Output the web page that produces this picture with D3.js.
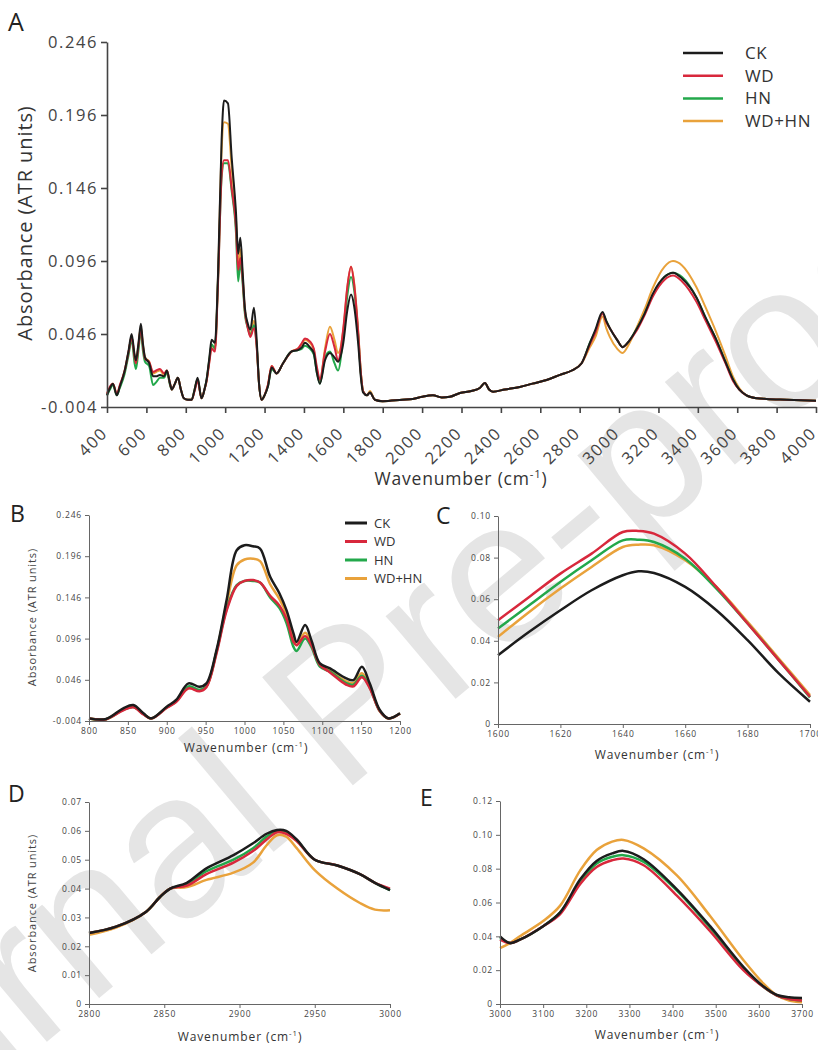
<!DOCTYPE html>
<meta charset="utf-8">
<script src="https://cdn.jsdelivr.net/npm/d3@7"></script>
<style>
  body { margin: 0; background: #fff; }
  text { font-family: "Open Sans", sans-serif; }
</style>
<div id="chart"></div>
<script>
// series
var names = ["CK", "WD", "HN", "WD+HN"];
var colors = ["#1c1c1c", "#d8283c", "#23a84b", "#e9a23b"];

// panel A: full spectrum
var aWn = [400,415,430,450,465,490,510,525,540,547,560,572,582,593,614,634,650,669,690,704,720,729,745,760,775,790,811,830,845,860,880,895,906,920,931,948,964,982,994,1014,1033,1055,1066,1077,1089,1100,1115,1128,1146,1160,1172,1185,1200,1217,1236,1261,1294,1337,1370,1390,1405,1430,1450,1465,1481,1507,1532,1555,1573,1600,1620,1639,1655,1675,1690,1700,1720,1735,1760,1800,1900,1953,2000,2055,2100,2141,2192,2250,2293,2319,2340,2360,2420,2496,2560,2632,2700,2760,2810,2852,2880,2916,2935,2953,2990,3018,3050,3088,3130,3173,3230,3274,3320,3393,3440,3494,3540,3578,3610,3647,3700,3749,3850,4000];
var aCK = [.004,.009,.012,.004,.010,.021,.035,.046,.032,.028,.040,.053,.040,.030,.026,.017,.017,.018,.017,.021,.012,.008,.012,.016,.008,.002,.001,.001,.008,.016,.002,.008,.015,.030,.042,.040,.088,.179,.206,.204,.167,.129,.101,.112,.088,.064,.053,.049,.064,.042,.012,.001,.004,.010,.023,.019,.026,.034,.035,.037,.040,.037,.033,.020,.012,.028,.033,.030,.027,.040,.062,.073,.065,.040,.015,.006,.004,.006,.001,.000,.001,.0015,.003,.004,.0025,.003,.0056,.007,.009,.0124,.008,.0065,.008,.0097,.012,.0145,.018,.021,.026,.040,.049,.061,.055,.050,.042,.037,.041,.049,.060,.074,.085,.088,.084,.071,.057,.042,.027,.015,.008,.004,.002,.0015,.001,.0003];
var aWD = [.005,.010,.012,.005,.011,.021,.034,.044,.030,.026,.038,.050,.038,.029,.027,.020,.021,.022,.019,.021,.012,.008,.012,.016,.008,.002,.001,.001,.007,.014,.002,.008,.014,.027,.036,.034,.082,.155,.165,.165,.146,.119,.090,.098,.083,.062,.050,.044,.050,.037,.012,.001,.004,.011,.024,.019,.026,.034,.036,.040,.043,.041,.036,.024,.015,.034,.046,.037,.028,.050,.078,.092,.080,.048,.018,.007,.004,.006,.001,.000,.001,.0015,.003,.004,.0025,.003,.0056,.007,.009,.0124,.008,.0065,.008,.0097,.012,.0145,.018,.021,.026,.039,.047,.060,.054,.050,.042,.037,.041,.048,.059,.072,.083,.086,.082,.068,.055,.040,.026,.014,.008,.004,.002,.0015,.001,.0003];
var aHN = [.004,.008,.011,.004,.009,.019,.032,.042,.026,.022,.035,.048,.035,.027,.024,.011,.013,.016,.016,.020,.011,.008,.012,.016,.008,.002,.001,.001,.008,.015,.002,.008,.015,.029,.039,.036,.084,.153,.163,.163,.144,.115,.082,.095,.080,.060,.050,.045,.052,.038,.012,.001,.004,.010,.022,.019,.026,.034,.035,.036,.038,.036,.032,.020,.012,.030,.034,.026,.021,.045,.072,.085,.076,.046,.017,.007,.004,.006,.001,.000,.001,.0015,.003,.004,.0025,.003,.0056,.007,.009,.0124,.008,.0065,.008,.0097,.012,.0145,.018,.021,.026,.040,.048,.060,.055,.050,.042,.037,.041,.049,.060,.073,.085,.088,.085,.071,.057,.042,.027,.015,.008,.004,.002,.0015,.001,.0003];
var aWDHN = [.005,.009,.012,.005,.010,.021,.034,.044,.031,.027,.039,.051,.039,.030,.027,.019,.020,.021,.018,.021,.012,.008,.012,.016,.008,.002,.001,.001,.008,.015,.002,.008,.014,.028,.038,.036,.086,.172,.191,.190,.160,.124,.092,.104,.085,.062,.051,.046,.055,.039,.012,.001,.004,.011,.024,.019,.026,.034,.036,.039,.042,.040,.035,.022,.014,.036,.051,.042,.033,.049,.077,.092,.081,.049,.018,.007,.004,.007,.001,.000,.001,.0015,.003,.004,.0025,.003,.0056,.007,.009,.0124,.008,.0065,.008,.0097,.012,.0145,.018,.021,.026,.037,.044,.058,.050,.044,.036,.033,.039,.050,.063,.078,.092,.096,.093,.078,.064,.047,.031,.017,.009,.004,.002,.0015,.001,.0003];

// panel B: 800-1200
var bWn = [800,822,844,857,870,880,900,912,928,942,951,964,977,990,1000,1011,1020,1033,1045,1054,1063,1067,1078,1086,1097,1110,1131,1140,1151,1161,1174,1185,1200];
var bCK = [-.0008,-.0016,.0114,.0154,.0053,-.0008,.0134,.0215,.0417,.0376,.0417,.082,.1427,.2033,.2093,.2081,.2053,.171,.1507,.1305,.1023,.092,.1124,.0942,.0659,.0598,.0477,.0457,.0619,.0417,.0093,-.0008,.0053];
var bWD = [-.001,-.0018,.009,.0126,.004,-.001,.012,.019,.0356,.032,.037,.078,.130,.160,.166,.167,.164,.148,.136,.120,.092,.088,.099,.088,.064,.055,.040,.038,.049,.036,.008,-.001,.005];
var bHN = [-.001,-.0018,.0095,.013,.0045,-.001,.0125,.020,.038,.034,.0385,.080,.132,.161,.166,.166,.164,.146,.133,.115,.086,.081,.096,.086,.062,.056,.042,.040,.051,.037,.008,-.001,.005];
var bWDHN = [-.001,-.0018,.010,.0135,.0045,-.001,.0125,.020,.036,.033,.038,.080,.138,.185,.192,.193,.190,.162,.144,.126,.096,.088,.103,.090,.064,.057,.044,.042,.054,.038,.008,-.001,.005];

// panel C: 1600-1700
var cWn = [1600,1610,1620,1630,1640,1645,1650,1660,1670,1680,1690,1700];
var cCK = [.0331,.0443,.0547,.0643,.0715,.0734,.0726,.0659,.0547,.0403,.0243,.0107];
var cWD = [.0499,.0611,.0723,.0819,.0923,.0928,.0915,.0819,.0659,.0483,.0307,.0131];
var cHN = [.0459,.0571,.0683,.0787,.0883,.0886,.0875,.0795,.0651,.0483,.0307,.0128];
var cWDHN = [.0419,.0539,.0651,.0755,.0851,.0862,.0859,.0787,.0659,.0491,.0315,.0139];

// panel D: 2800-3000
var dWn = [2800,2818,2838,2847,2854,2865,2878,2896,2909,2918,2925,2931,2938,2950,2965,2980,2990,3000];
var dCK = [.0246,.0268,.032,.037,.040,.042,.047,.0516,.0557,.059,.0603,.060,.057,.050,.048,.045,.042,.0395];
var dWD = [.0246,.0268,.032,.037,.040,.041,.045,.049,.053,.057,.0595,.059,.0565,.050,.048,.045,.042,.040];
var dHN = [.0246,.0268,.032,.037,.040,.0415,.046,.050,.054,.058,.060,.0595,.0567,.050,.048,.045,.042,.0395];
var dWDHN = [.024,.0265,.032,.037,.040,.0405,.043,.0455,.049,.055,.0585,.058,.054,.0464,.040,.035,.0327,.0325];

// panel E: 3000-3700
var eWn = [3000,3023,3046,3100,3139,3186,3224,3260,3286,3333,3410,3487,3564,3611,3642,3670,3700];
var eCK = [.040,.036,.038,.046,.054,.0737,.0846,.089,.0905,.0856,.0678,.046,.022,.0103,.0053,.004,.0036];
var eWD = [.038,.036,.038,.046,.053,.071,.081,.085,.086,.082,.064,.043,.020,.010,.005,.003,.002];
var eHN = [.039,.036,.038,.046,.054,.072,.083,.087,.088,.084,.067,.045,.021,.010,.005,.003,.002];
var eWDHN = [.033,.036,.040,.049,.058,.079,.091,.096,.097,.092,.076,.052,.026,.012,.005,.002,.001];

var svg = d3.select("#chart").append("svg")
    .attr("width", 818)
    .attr("height", 1050);

// watermark behind everything
var wm = svg.append("g").attr("transform", "translate(340,796) rotate(-40)")
    .style("font-size", "205px").attr("fill", "#e5e5e5");
wm.append("text").attr("x", -55).attr("text-anchor", "end").style("font-family", "'Liberation Sans', Arial, sans-serif").text("Journal");
wm.append("text").attr("x", 0).style("font-family", "'Liberation Sans', Arial, sans-serif").text("Pre-proof");

function fmt(f) {
  return function(d) { return d === 0 ? "0" : d3.format(f)(d).replace("\u2212", "-"); };
}

function xLabel(g, cx, cy, size, ls) {
  var t = g.append("text")
      .attr("x", cx).attr("y", cy)
      .attr("text-anchor", "middle")
      .style("font-size", size + "px")
      .style("letter-spacing", ls + "px")
      .attr("fill", "#333")
      .text("Wavenumber (cm");
  t.append("tspan").attr("dy", -size * 0.4).style("font-size", (size * 0.65) + "px").text("-1");
  t.append("tspan").attr("dy", size * 0.4).text(")");
}

function panel(o) {
  var g = svg.append("g");
  var x = d3.scaleLinear().domain(o.xd).range([o.l, o.r]);
  var y = d3.scaleLinear().domain(o.yd).range([o.b, o.t]);

  var line = d3.line()
      .x(function(d) { return x(d[0]); })
      .y(function(d) { return y(d[1]); })
      .curve(o.curve);

  // draw orange, green, red, then black on top
  [3, 2, 1, 0].forEach(function(i) {
    var pts = o.wn.map(function(w, k) { return [w, o.vals[i][k]]; });
    g.append("path")
        .datum(pts)
        .attr("fill", "none")
        .attr("stroke", colors[i])
        .attr("stroke-width", o.lw)
        .attr("stroke-linejoin", "round")
        .attr("d", line);
  });

  var xa = g.append("g")
      .attr("transform", "translate(0," + o.b + ")")
      .call(d3.axisBottom(x).tickValues(o.xt).tickSize(o.tick).tickSizeOuter(0).tickFormat(d3.format("d")));
  var ya = g.append("g")
      .attr("transform", "translate(" + o.l + ",0)")
      .call(d3.axisLeft(y).tickValues(o.yt).tickSize(o.tick).tickSizeOuter(0).tickFormat(fmt(o.yf)));

  [xa, ya].forEach(function(a) {
    a.select(".domain").attr("stroke", o.axisColor).attr("stroke-width", o.aw);
    a.selectAll(".tick line").attr("stroke", o.axisColor).attr("stroke-width", o.aw);
    a.selectAll("text").style("font-size", o.fs + "px").attr("fill", "#444")
        .style("letter-spacing", o.ls + "px")
        .style("font-family", "'Open Sans', sans-serif");
  });
  return {g: g, xa: xa, ya: ya};
}

// ---------- A ----------
var A = panel({
  wn: aWn, vals: [aCK, aWD, aHN, aWDHN],
  xd: [400, 4000], yd: [-0.004, 0.246],
  l: 107, r: 816, t: 42, b: 407,
  xt: d3.range(400, 4001, 200), yt: [-0.004, 0.046, 0.096, 0.146, 0.196, 0.246],
  yf: ".3f", tick: 6, fs: 16.5, ls: 1.6, lw: 2, aw: 1.6, axisColor: "#444",
  curve: d3.curveMonotoneX
});
A.xa.selectAll("text")
    .attr("x", 0).attr("y", 0).attr("dy", "0.35em")
    .attr("transform", "translate(-3,23) rotate(-45)")
    .style("text-anchor", "end");
A.ya.selectAll("text").attr("x", -9);

svg.append("text").attr("x", 8).attr("y", 31).style("font-size", "25px").attr("fill", "#222").text("A");
svg.append("text")
    .attr("transform", "translate(32,223) rotate(-90)")
    .attr("text-anchor", "middle")
    .style("font-size", "20px").style("letter-spacing", "0.9px").attr("fill", "#333")
    .text("Absorbance (ATR units)");
xLabel(svg, 461, 485, 17.5, 0.8);

// legend A
names.forEach(function(n, i) {
  var yy = 53 + i * 22.7;
  svg.append("line").attr("x1", 683).attr("x2", 723).attr("y1", yy).attr("y2", yy)
      .attr("stroke", colors[i]).attr("stroke-width", 2.5);
  svg.append("text").attr("x", 745).attr("y", yy).attr("dy", "0.35em")
      .style("font-size", "17px").style("letter-spacing", "0.6px").attr("fill", "#333").text(n);
});

// ---------- B ----------
panel({
  wn: bWn, vals: [bCK, bWD, bHN, bWDHN],
  xd: [800, 1200], yd: [-0.004, 0.246],
  l: 89, r: 400, t: 515, b: 721,
  xt: d3.range(800, 1201, 50), yt: [-0.004, 0.046, 0.096, 0.146, 0.196, 0.246],
  yf: ".3f", tick: 4, fs: 8.5, ls: 0.8, lw: 2.5, aw: 1, axisColor: "#666",
  curve: d3.curveCatmullRom
});
svg.append("text").attr("x", 10).attr("y", 522).style("font-size", "23px").attr("fill", "#222").text("B");
svg.append("text")
    .attr("transform", "translate(36,617) rotate(-90)")
    .attr("text-anchor", "middle")
    .style("font-size", "11px").style("letter-spacing", "0.9px").attr("fill", "#444")
    .text("Absorbance (ATR units)");
xLabel(svg, 246, 752, 12, 0.9);
names.forEach(function(n, i) {
  var yy = 523 + i * 18.5;
  svg.append("line").attr("x1", 345).attr("x2", 367).attr("y1", yy).attr("y2", yy)
      .attr("stroke", colors[i]).attr("stroke-width", 3);
  svg.append("text").attr("x", 374).attr("y", yy).attr("dy", "0.35em")
      .style("font-size", "13px").attr("fill", "#333").text(n);
});

// ---------- C ----------
panel({
  wn: cWn, vals: [cCK, cWD, cHN, cWDHN],
  xd: [1600, 1700], yd: [0, 0.10],
  l: 498, r: 810, t: 516, b: 724,
  xt: d3.range(1600, 1701, 20), yt: d3.range(0, 0.101, 0.02),
  yf: ".2f", tick: 4, fs: 8.5, ls: 0.8, lw: 2.5, aw: 1, axisColor: "#666",
  curve: d3.curveCatmullRom
});
svg.append("text").attr("x", 436).attr("y", 524).style("font-size", "23px").attr("fill", "#222").text("C");
xLabel(svg, 657, 759, 12, 0.9);

// ---------- D ----------
panel({
  wn: dWn, vals: [dCK, dWD, dHN, dWDHN],
  xd: [2800, 3000], yd: [0, 0.07],
  l: 89, r: 390, t: 802, b: 1004,
  xt: d3.range(2800, 3001, 50), yt: d3.range(0, 0.0701, 0.01),
  yf: ".2f", tick: 4, fs: 8.5, ls: 0.8, lw: 2.5, aw: 1, axisColor: "#666",
  curve: d3.curveCatmullRom
});
svg.append("text").attr("x", 8).attr("y", 802).style("font-size", "23px").attr("fill", "#222").text("D");
svg.append("text")
    .attr("transform", "translate(36,903) rotate(-90)")
    .attr("text-anchor", "middle")
    .style("font-size", "11px").style("letter-spacing", "0.9px").attr("fill", "#444")
    .text("Absorbance (ATR units)");
xLabel(svg, 240, 1041, 12, 0.9);

// ---------- E ----------
panel({
  wn: eWn, vals: [eCK, eWD, eHN, eWDHN],
  xd: [3000, 3700], yd: [0, 0.12],
  l: 500, r: 802, t: 801, b: 1004,
  xt: d3.range(3000, 3701, 100), yt: d3.range(0, 0.1201, 0.02),
  yf: ".2f", tick: 4, fs: 8.5, ls: 0.8, lw: 2.5, aw: 1, axisColor: "#666",
  curve: d3.curveCatmullRom
});
svg.append("text").attr("x", 420).attr("y", 806).style("font-size", "23px").attr("fill", "#222").text("E");
xLabel(svg, 657, 1039, 12, 0.9);
</script>
